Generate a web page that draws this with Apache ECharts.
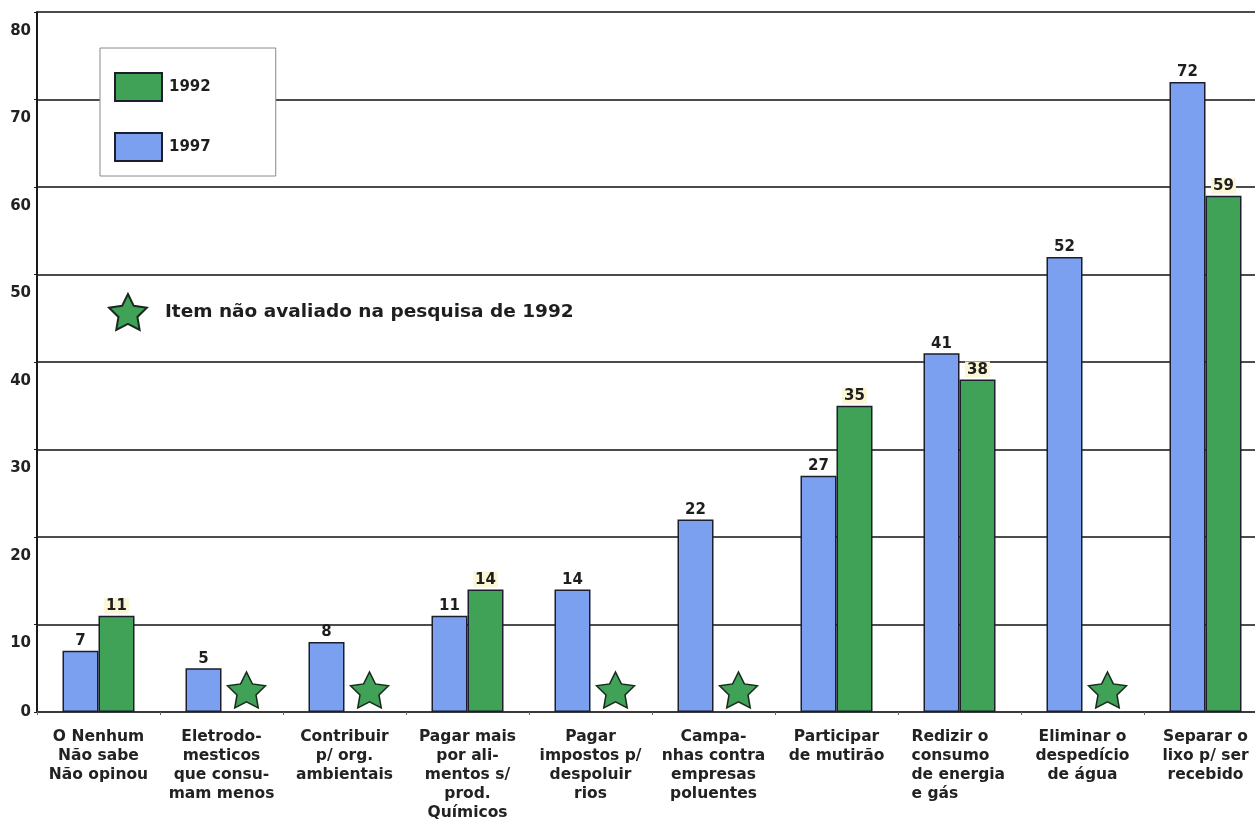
<!DOCTYPE html>
<html>
<head>
<meta charset="utf-8">
<script src="https://cdn.jsdelivr.net/npm/echarts@6/dist/echarts.min.js"></script>
<style>
  html, body { margin: 0; padding: 0; background: #ffffff; overflow: hidden; }
  /* the plot runs a little past the right edge of the page */
  #chart { width: 1267px; height: 822px; }
</style>
</head>
<body>
<div id="chart"></div>
<script>
// Survey answers: what people are willing to do for the environment (%)
const categories = [
  'O Nenhum\nNão sabe\nNão opinou',
  'Eletrodo-\nmesticos\nque consu-\nmam menos',
  'Contribuir\np/ org.\nambientais',
  'Pagar mais\npor ali-\nmentos s/\nprod.\nQuímicos',
  'Pagar\nimpostos p/\ndespoluir\nrios',
  'Campa-\nnhas contra\nempresas\npoluentes',
  'Participar\nde mutirão',
  'Redizir o\nconsumo\nde energia\ne gás',
  'Eliminar o\ndespedício\nde água',
  'Separar o\nlixo p/ ser\nrecebido'
];
const values1997 = [7, 5, 8, 11, 14, 22, 27, 41, 52, 72];
const values1992 = [11, null, null, 14, null, null, 35, 38, null, 59];
const yMin = 0;
const yMax = 80;
const yStep = 10;
const seriesNames = ['1992', '1997'];
const starNote = 'Item não avaliado na pesquisa de 1992';

// Items that were not part of the 1992 survey get a star marker
const notEvaluated = categories.filter((c, i) => values1992[i] === null);

const BLUE = '#7ba0f0';
const GREEN = '#3fa257';
const EDGE = '#1d1d2e';
const FONT = '"DejaVu Sans", Verdana, sans-serif';
const STAR = 'path://M50,0 L64.7,29.8 L97.6,34.5 L73.8,57.7 L79.4,90.5 L50,75 L20.6,90.5 L26.2,57.7 L2.4,34.5 L35.3,29.8 Z';

const chart = echarts.init(document.getElementById('chart'), null, { renderer: 'canvas' });

const valueLabel = {
  show: true,
  position: 'top',
  distance: 2,
  fontFamily: FONT,
  fontWeight: 'bold',
  fontSize: 15,
  color: '#1e1e1e'
};

chart.setOption({
  backgroundColor: '#ffffff',
  animation: false,
  grid: { left: 37, right: 0, top: 12, bottom: 106, containLabel: false },
  legend: [
    {
      data: seriesNames,
      orient: 'vertical',
      left: 100,
      top: 48,
      padding: [24, 65, 14, 14],
      itemGap: 30,
      itemWidth: 47,
      itemHeight: 28,
      backgroundColor: '#ffffff',
      borderColor: '#8a8a8a',
      borderWidth: 1,
      selectedMode: false,
      icon: 'rect',
      textStyle: { fontFamily: FONT, fontWeight: 'bold', fontSize: 15, color: '#1e1e1e', padding: [0, 0, 0, 2] }
    },
    {
      data: [starNote],
      left: 103,
      top: 288,
      itemWidth: 38,
      itemHeight: 36,
      selectedMode: false,
      textStyle: { fontFamily: FONT, fontWeight: 'bold', fontSize: 18.5, color: '#1e1e1e', padding: [0, 0, 0, 13] }
    }
  ],
  xAxis: {
    type: 'category',
    data: categories,
    axisLine: { lineStyle: { color: '#3a3a3a', width: 2 } },
    axisTick: { show: true, length: 3, lineStyle: { color: '#666' } },
    axisLabel: {
      interval: 0,
      margin: 15,
      fontFamily: FONT,
      fontWeight: 'bold',
      fontSize: 15.5,
      lineHeight: 19,
      color: '#222222',
      formatter: function (v, i) {
        if (i === 7) {
          return v.split('\n').map(s => '{l|' + s + '}').join('\n');
        }
        return v;
      },
      rich: {
        l: { width: 96, align: 'left', fontFamily: FONT, fontWeight: 'bold', fontSize: 15.5, lineHeight: 19, color: '#222222' }
      }
    }
  },
  yAxis: {
    type: 'value',
    min: yMin,
    max: yMax,
    interval: yStep,
    axisLine: { show: true, lineStyle: { color: '#1a1a1a', width: 2 } },
    axisTick: { show: true, length: 3, lineStyle: { color: '#1a1a1a' } },
    splitLine: { lineStyle: { color: '#111111', width: 1.5 } },
    axisLabel: {
      margin: 6,
      fontFamily: FONT,
      fontWeight: 'bold',
      fontSize: 15,
      color: '#222222',
      formatter: v => (v === 0 ? '{z|0}' : '{n|' + v + '}'),
      rich: {
        z: { fontFamily: FONT, fontWeight: 'bold', fontSize: 15, color: '#222222' },
        n: { fontFamily: FONT, fontWeight: 'bold', fontSize: 15, color: '#222222', padding: [38, 0, 0, 0] }
      }
    }
  },
  series: [
    {
      name: '1997',
      type: 'bar',
      data: values1997,
      barWidth: 36,
      barGap: '0%',
      itemStyle: { color: BLUE, borderColor: EDGE, borderWidth: 1.5 },
      label: valueLabel,
      z: 3
    },
    {
      name: '1992',
      type: 'bar',
      data: values1992,
      barWidth: 36,
      barGap: '0%',
      itemStyle: { color: GREEN, borderColor: EDGE, borderWidth: 1.5 },
      label: Object.assign({}, valueLabel, { backgroundColor: '#fbf7d6', padding: [1, 2, 0, 2] }),
      z: 3
    },
    {
      name: starNote,
      type: 'scatter',
      data: notEvaluated.map(c => [c, 0]),
      symbol: STAR,
      symbolSize: [38, 36],
      symbolOffset: [25, -22],
      itemStyle: { color: GREEN, borderColor: '#1b2a1e', borderWidth: 1.5, opacity: 1 },
      z: 4
    }
  ]
});
</script>
</body>
</html>
